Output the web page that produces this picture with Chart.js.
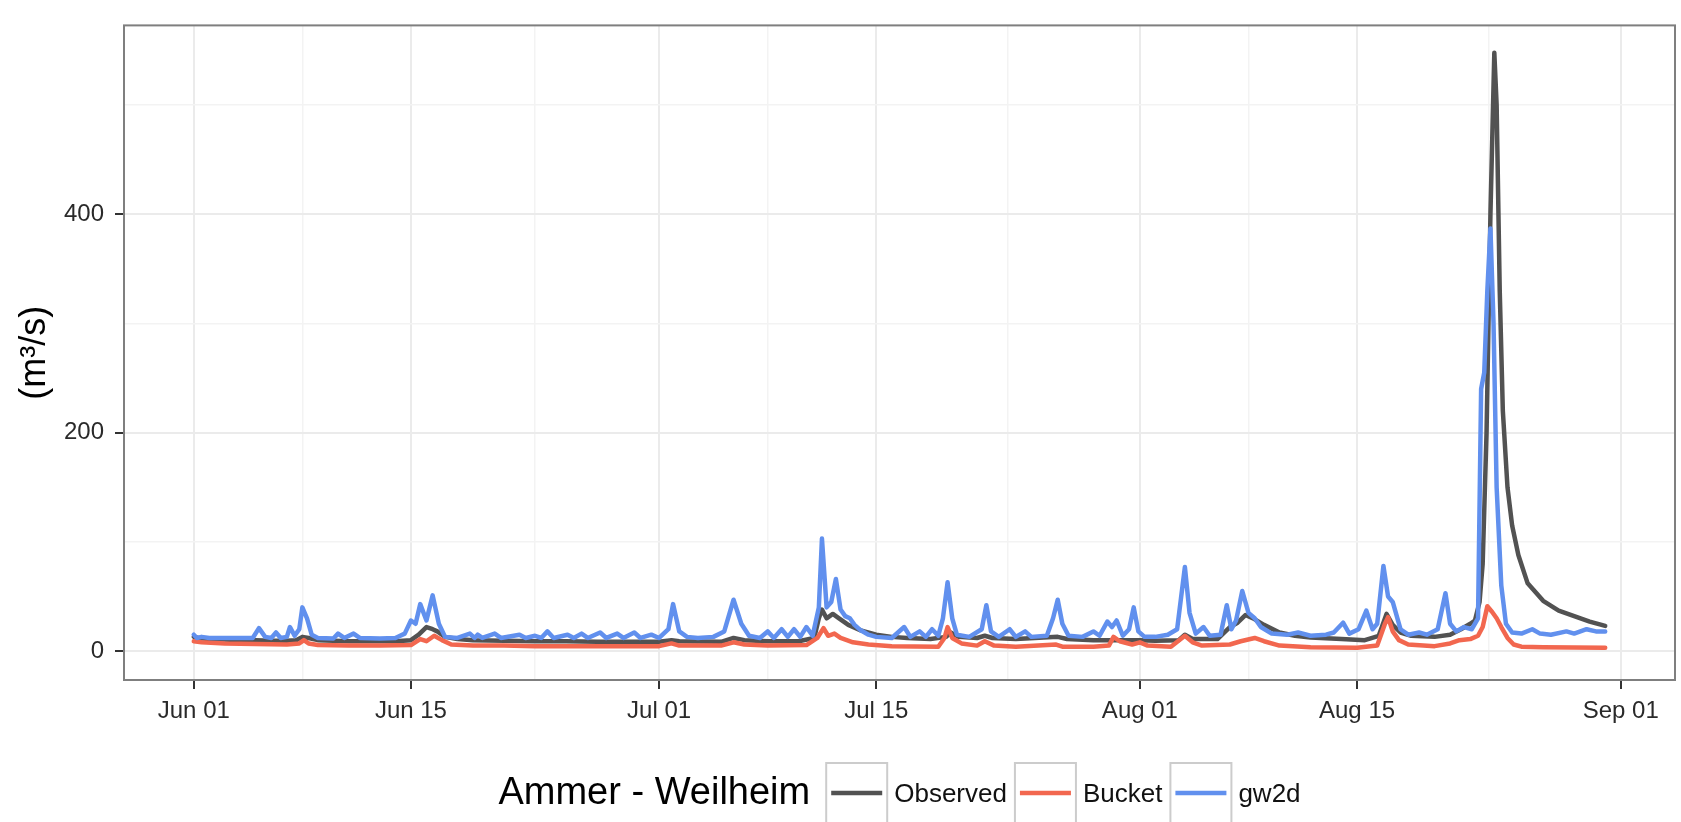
<!DOCTYPE html>
<html>
<head>
<meta charset="utf-8">
<script src="https://cdn.jsdelivr.net/npm/chart.js@4.4.1/dist/chart.umd.min.js"></script>
<style>
  html, body { margin: 0; padding: 0; background: #fff; }
  #wrap { width: 1681px; height: 822px; }
</style>
</head>
<body>
<div id="wrap"><canvas id="flow-chart" width="1681" height="822"></canvas></div>
<script>
// discharge at Ammer - Weilheim, summer; x = days since Jun 01
const stationName = 'Ammer - Weilheim';
const seriesNames = ['Observed', 'Bucket', 'gw2d'];
const seriesColors = ['#525252', '#F2674F', '#6190EE'];

const obsDays = [0, 0.3, 1, 2, 3, 4, 5, 6, 6.6, 7.0, 7.4, 8, 9, 10, 11, 12, 13, 14, 14.5, 15.0, 15.4, 15.7, 16.2, 17, 18, 20, 22, 24, 26, 28, 30, 30.8, 31.3, 34, 34.8, 35.5, 37, 39, 40.0, 40.3, 40.5, 40.8, 41.2, 41.6, 42.2, 43, 44, 45, 46, 47.5, 48.5, 48.8, 49.3, 50.5, 51, 51.5, 53, 55.7, 56.3, 58, 60, 61, 62, 63.5, 63.9, 64.4, 66, 66.8, 67.3, 67.8, 68.3, 69, 70, 71, 72, 74, 75.5, 76.4, 76.9, 77.3, 77.8, 78.5, 80, 81, 81.7, 82.3, 82.6, 82.9, 83.1, 83.35, 83.6, 83.85, 84.0, 84.2, 84.4, 84.7, 85.0, 85.4, 86, 87, 88, 89, 90, 91];
const obsFlow = [13, 12, 11, 10.5, 10, 10, 9.5, 9.5, 10, 13, 12, 10, 9.5, 9, 9, 9, 9, 10, 15, 22, 20, 18, 13, 11, 10, 9.5, 9, 9, 8.5, 8.5, 8.5, 10, 9, 8.5, 12, 10, 9, 9, 12, 30, 38, 30, 34, 30, 24, 19, 15, 13, 12, 11, 13, 17, 13, 12, 14, 12, 11, 13, 11, 10, 10, 10, 9.5, 10, 15, 11, 11, 22, 26, 33, 30, 24, 17, 14, 12.5, 11, 10, 14, 34, 24, 17, 14, 13, 15, 20, 25, 28, 45, 80, 200, 400, 548, 500, 330, 220, 150, 115, 88, 62, 46, 37, 32, 27, 23];

const bucketDays = [0, 0.5, 2, 4, 6, 6.8, 7.1, 7.4, 8, 10, 12, 14, 14.6, 15.0, 15.5, 16, 16.6, 18, 20, 22, 24, 26, 28, 30, 30.8, 31.3, 34, 34.8, 35.5, 37, 39.5, 40.2, 40.6, 40.9, 41.3, 41.7, 42.5, 43.5, 45, 48, 48.4, 48.6, 48.9, 49.5, 50.5, 51, 51.6, 53, 55.6, 56, 58, 59, 59.3, 59.7, 60.5, 61, 61.5, 63, 63.9, 64.4, 65, 66.8, 67.5, 68.4, 69, 70, 72, 75, 76.3, 76.8, 77.0, 77.3, 77.7, 78.3, 80, 81, 81.6, 82.3, 82.8, 83.1, 83.4, 83.7, 84.0, 84.3, 84.7, 85.1, 85.6, 87, 91];
const bucketFlow = [9, 8, 7, 6.5, 6, 7, 10, 7, 5.5, 5, 5, 5.5, 11, 9, 14, 10, 6, 5, 5, 4.5, 4.5, 4.5, 4.5, 4.5, 7, 5, 5, 8, 6, 5, 5.5, 12, 21, 14, 16, 12, 8, 6, 4.5, 4, 12, 22, 12, 7, 5, 9, 5, 4, 6, 4, 4, 5, 13, 9, 6, 8, 5, 4, 14, 8, 5, 6, 9, 12, 9, 5, 3.5, 3, 5, 25, 31, 18, 10, 6, 4.5, 7, 10, 11, 14, 22, 41, 36, 30, 22, 12, 6, 4, 3.5, 3];

const gw2dDays = [0, 0.2, 0.5, 1, 2, 3, 3.8, 4.2, 4.6, 5.0, 5.3, 5.6, 6.0, 6.2, 6.5, 6.8, 7.0, 7.3, 7.6, 8, 9, 9.3, 9.7, 10.3, 10.7, 12, 13, 13.6, 14.0, 14.3, 14.6, 15.0, 15.4, 15.8, 16.2, 17, 17.8, 18.1, 18.3, 18.6, 19.4, 19.8, 21, 21.4, 22, 22.4, 22.8, 23.2, 24.1, 24.5, 25, 25.4, 26.2, 26.6, 27.3, 27.7, 28.4, 28.8, 29.5, 30.0, 30.6, 30.9, 31.3, 31.8, 32.5, 33.5, 34.2, 34.8, 35.3, 35.8, 36.5, 37, 37.4, 37.9, 38.3, 38.7, 39.1, 39.5, 39.9, 40.3, 40.5, 40.8, 41.1, 41.4, 41.7, 42.0, 42.3, 42.6, 43, 43.5, 44, 45, 45.8, 46.2, 46.8, 47.2, 47.6, 48.0, 48.3, 48.6, 48.9, 49.2, 50, 50.8, 51.1, 51.4, 51.9, 52.6, 53, 53.6, 54, 55.0, 55.4, 55.7, 56.0, 56.4, 57.3, 58.0, 58.4, 58.9, 59.2, 59.5, 59.9, 60.3, 60.6, 60.9, 61.3, 62.0, 62.8, 63.4, 63.9, 64.2, 64.6, 65.1, 65.5, 66.2, 66.6, 66.9, 67.2, 67.6, 68.0, 68.4, 68.8, 69.5, 70.5, 71.2, 72, 73, 73.5, 74.1, 74.5, 75.1, 75.6, 76.0, 76.3, 76.7, 77.0, 77.3, 77.8, 78.3, 79, 79.5, 80.2, 80.7, 81.0, 81.4, 81.9, 82.4, 82.8, 83.0, 83.2, 83.4, 83.6, 83.8, 84.0, 84.3, 84.6, 85, 85.6, 86.3, 86.8, 87.5, 88.5, 89, 89.8, 90.4, 91];
const gw2dFlow = [15, 12, 13, 12, 12, 12, 12, 21, 13, 12, 17, 12, 13, 22, 14, 20, 40, 30, 15, 12, 11.5, 16, 12, 16, 12, 11.5, 12, 16, 28, 25, 43, 28, 51, 25, 13, 12, 16, 12, 15, 12, 16, 12, 15, 12, 14, 12, 18, 12, 15, 12, 16, 12, 17, 12, 16, 12, 17, 12, 15, 12, 20, 43, 18, 13, 12, 13, 18, 47, 25, 14, 12, 18, 12, 20, 13, 20, 13, 22, 14, 40, 103, 40, 45, 66, 38, 32, 30, 24, 19, 15, 13, 12, 22, 13, 18, 13, 20, 14, 30, 63, 30, 15, 13, 20, 42, 18, 13, 20, 13, 18, 13, 14, 30, 47, 25, 14, 13, 18, 14, 27, 22, 28, 14, 20, 40, 18, 13, 13, 15, 20, 77, 35, 16, 22, 14, 15, 42, 20, 28, 55, 35, 30, 22, 16, 15, 17, 14, 15, 17, 26, 16, 20, 37, 20, 25, 78, 50, 45, 20, 15, 17, 15, 20, 53, 25, 18, 22, 20, 30, 240, 255, 330, 387, 300, 150, 60, 25, 17, 16, 20, 16, 15, 18, 16, 20, 18, 18];

const xMajorDays = [0, 14, 30, 44, 61, 75, 92];
const xTickLabels = ['Jun 01', 'Jun 15', 'Jul 01', 'Jul 15', 'Aug 01', 'Aug 15', 'Sep 01'];
const xMinorDays = [7, 22, 37, 52.5, 68, 83.5];
const yMajor = [0, 200, 400];
const yMinor = [100, 300, 500];

const FONT = "'Liberation Sans', Arial, Helvetica, sans-serif";

function toPoints(days, flow) {
    return days.map((d, i) => ({ x: d, y: flow[i] }));
}

// panel border and the legend strip underneath the panel
const panelLegendPlugin = {
    id: 'panelLegendPlugin',
    afterDatasetsDraw(chart) {
        const { ctx, chartArea: a } = chart;
        ctx.save();
        ctx.strokeStyle = '#7F7F7F';
        ctx.lineWidth = 2;
        ctx.strokeRect(a.left, a.top, a.right - a.left, a.bottom - a.top);
        ctx.restore();
    },
    afterDraw(chart) {
        const ctx = chart.ctx;
        const a = chart.chartArea;
        ctx.save();
        ctx.textBaseline = 'alphabetic';
        ctx.font = '38px ' + FONT;
        const titleW = ctx.measureText(stationName).width;
        ctx.font = '26px ' + FONT;
        const labelW = seriesNames.map(n => ctx.measureText(n).width);
        const keyW = 61, keyH = 61;
        let total = titleW + 16;
        labelW.forEach((w, i) => { total += keyW + 7 + w + (i < labelW.length - 1 ? 8 : 0); });
        let x = (a.left + a.right) / 2 - total / 2;
        ctx.fillStyle = '#000';
        ctx.font = '38px ' + FONT;
        ctx.fillText(stationName, x, 804);
        x += titleW + 16;
        ctx.font = '26px ' + FONT;
        seriesNames.forEach((name, i) => {
            ctx.fillStyle = '#fff';
            ctx.fillRect(x, 763, keyW, keyH);
            ctx.strokeStyle = '#CCCCCC';
            ctx.lineWidth = 2;
            ctx.strokeRect(x, 763, keyW, keyH);
            ctx.strokeStyle = seriesColors[i];
            ctx.lineWidth = 4.5;
            ctx.beginPath();
            ctx.moveTo(x + 5, 793);
            ctx.lineTo(x + keyW - 5, 793);
            ctx.stroke();
            x += keyW + 7;
            ctx.fillStyle = '#111';
            ctx.fillText(name, x, 802);
            x += labelW[i] + 8;
        });
        ctx.restore();
    }
};

const lineStyle = { borderWidth: 4.5, pointRadius: 0, tension: 0, fill: false, borderJoinStyle: 'round', borderCapStyle: 'round' };

new Chart(document.getElementById('flow-chart'), {
    type: 'line',
    data: {
        datasets: [
            { label: seriesNames[0], data: toPoints(obsDays, obsFlow), borderColor: seriesColors[0], order: 2, ...lineStyle },
            { label: seriesNames[1], data: toPoints(bucketDays, bucketFlow), borderColor: seriesColors[1], order: 1, ...lineStyle },
            { label: seriesNames[2], data: toPoints(gw2dDays, gw2dFlow), borderColor: seriesColors[2], order: 0, ...lineStyle }
        ]
    },
    options: {
        responsive: false,
        animation: false,
        devicePixelRatio: 1,
        layout: { padding: { left: 0, right: 6, top: 10, bottom: 82 } },
        plugins: { legend: { display: false }, tooltip: { enabled: false } },
        scales: {
            x: {
                type: 'linear',
                min: -4.5,
                max: 95.5,
                afterBuildTicks: (scale) => {
                    scale.ticks = [...xMajorDays, ...xMinorDays].sort((p, q) => p - q).map(v => ({ value: v }));
                },
                afterFit: (scale) => { scale.height = 60; },
                border: { display: false },
                grid: {
                    color: (c) => xMajorDays.includes(c.tick.value) ? '#EBEBEB' : '#F3F3F3',
                    lineWidth: (c) => xMajorDays.includes(c.tick.value) ? 2 : 1.5,
                    tickColor: (c) => xMajorDays.includes(c.tick.value) ? '#333' : 'rgba(0,0,0,0)',
                    tickWidth: 2,
                    tickLength: 9
                },
                ticks: {
                    autoSkip: false,
                    maxRotation: 0,
                    padding: 8,
                    color: '#2a2a2a',
                    font: { family: FONT, size: 24 },
                    callback: (v) => {
                        const i = xMajorDays.indexOf(v);
                        return i >= 0 ? xTickLabels[i] : '';
                    }
                }
            },
            y: {
                type: 'linear',
                min: -26.5,
                max: 573,
                afterBuildTicks: (scale) => {
                    scale.ticks = [...yMajor, ...yMinor].sort((p, q) => p - q).map(v => ({ value: v }));
                },
                afterFit: (scale) => { scale.width = 124; },
                border: { display: false },
                grid: {
                    color: (c) => yMajor.includes(c.tick.value) ? '#EBEBEB' : '#F3F3F3',
                    lineWidth: (c) => yMajor.includes(c.tick.value) ? 2 : 1.5,
                    tickColor: (c) => yMajor.includes(c.tick.value) ? '#333' : 'rgba(0,0,0,0)',
                    tickWidth: 2,
                    tickLength: 9
                },
                ticks: {
                    padding: 11,
                    color: '#2a2a2a',
                    font: { family: FONT, size: 24 },
                    callback: (v) => yMajor.includes(v) ? String(v) : ''
                },
                title: {
                    display: true,
                    text: '(m³/s)',
                    color: '#000',
                    font: { family: FONT, size: 36 },
                    padding: { top: 13, bottom: 0 }
                }
            }
        }
    },
    plugins: [panelLegendPlugin]
});
</script>
</body>
</html>
